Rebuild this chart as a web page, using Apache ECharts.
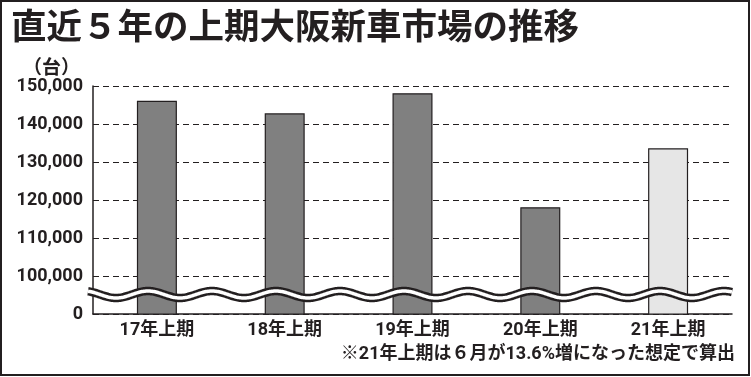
<!DOCTYPE html>
<html>
<head>
<meta charset="utf-8">
<script src="https://cdn.jsdelivr.net/npm/echarts@6/dist/echarts.min.js"></script>
<style>
  html, body { margin: 0; padding: 0; background: #fff; }
  #chart { width: 751px; height: 377px; }
</style>
</head>
<body>
<div id="chart"></div>
<script>
// data
const categories = ['17年上期', '18年上期', '19年上期', '20年上期', '21年上期'];
const sales = [146100, 142800, 148100, 118100, 133600];
const barColors = ['#808080', '#808080', '#808080', '#808080', '#e6e6e6'];
const yTicks = [90000, 100000, 110000, 120000, 130000, 140000, 150000];
const breakLabel = '0'; // 90,000 tick is shown as 0 (axis broken below 100,000)

const INK = '#231f20';
const NARROW = "Roboto, 'Noto Sans CJK JP', sans-serif";

const chart = echarts.init(document.getElementById('chart'));

const option = {
  backgroundColor: '#fff',
  animation: false,
  title: {
    text: '直近５年の上期大阪新車市場の推移',
    left: 6,
    top: 3,
    textStyle: {
      fontFamily: "'Noto Sans CJK JP', sans-serif",
      fontSize: 35.5,
      fontWeight: 'bold',
      color: INK,
    },
  },
  grid: {
    left: 93,
    right: 19,
    top: 86,
    bottom: 63,
  },
  xAxis: {
    type: 'category',
    data: categories,
    axisTick: { show: false },
    axisLine: { lineStyle: { color: INK, width: 1.5 } },
    axisLabel: {
      margin: 8,
      color: INK,
      fontFamily: NARROW,
      fontWeight: 'bold',
      fontSize: 18,
    },
  },
  yAxis: {
    type: 'value',
    min: yTicks[0],
    max: yTicks[yTicks.length - 1],
    interval: 10000,
    axisLine: { show: true, lineStyle: { color: INK, width: 1.5 } },
    axisTick: { show: false },
    splitLine: { lineStyle: { color: INK, type: [6, 4], width: 1 } },
    axisLabel: {
      margin: 10,
      color: INK,
      fontFamily: NARROW,
      fontWeight: 'bold',
      fontSize: 18,
      formatter: (v) => (v === yTicks[0] ? breakLabel : v.toLocaleString('en-US')),
    },
  },
  series: [
    {
      type: 'bar',
      barWidth: 40,
      data: sales.map((v, i) => ({
        value: v,
        itemStyle: { color: barColors[i] },
      })),
      itemStyle: { borderColor: INK, borderWidth: 1.2 },
    },
  ],
};

chart.setOption(option);

// wavy break mark drawn at the middle of the gap, positions taken from the axes
const gridRect = chart.getModel().getComponent('grid', 0).coordinateSystem.getRect();
const yMid = chart.convertToPixel({ yAxisIndex: 0 }, 95000) - 0.5;
const wave = [];
for (let x = gridRect.x - 5; x <= gridRect.x + gridRect.width; x += 1) {
  wave.push([x, yMid + 3.5 * Math.cos((2 * Math.PI * (x - 116)) / 64)]);
}

chart.setOption({
  graphic: [
    {
      type: 'polyline',
      shape: { points: wave },
      style: { stroke: INK, lineWidth: 8.5, fill: null },
      z: 100,
    },
    {
      type: 'polyline',
      shape: { points: wave },
      style: { stroke: '#fff', lineWidth: 3.5, fill: null },
      z: 101,
    },
    {
      type: 'text',
      left: 23,
      top: 57,
      style: {
        text: '（台）',
        fill: INK,
        font: "bold 19px 'Noto Sans CJK JP', sans-serif",
      },
    },
    {
      type: 'text',
      right: 16,
      top: 346,
      style: {
        text: '※21年上期は６月が13.6%増になった想定で算出',
        fill: INK,
        font: 'bold 18px ' + NARROW,
      },
    },
    {
      type: 'rect',
      shape: { x: 1, y: 1, width: 748, height: 374 },
      style: { fill: null, stroke: INK, lineWidth: 2 },
      z: 200,
    },
  ],
});
</script>
</body>
</html>
